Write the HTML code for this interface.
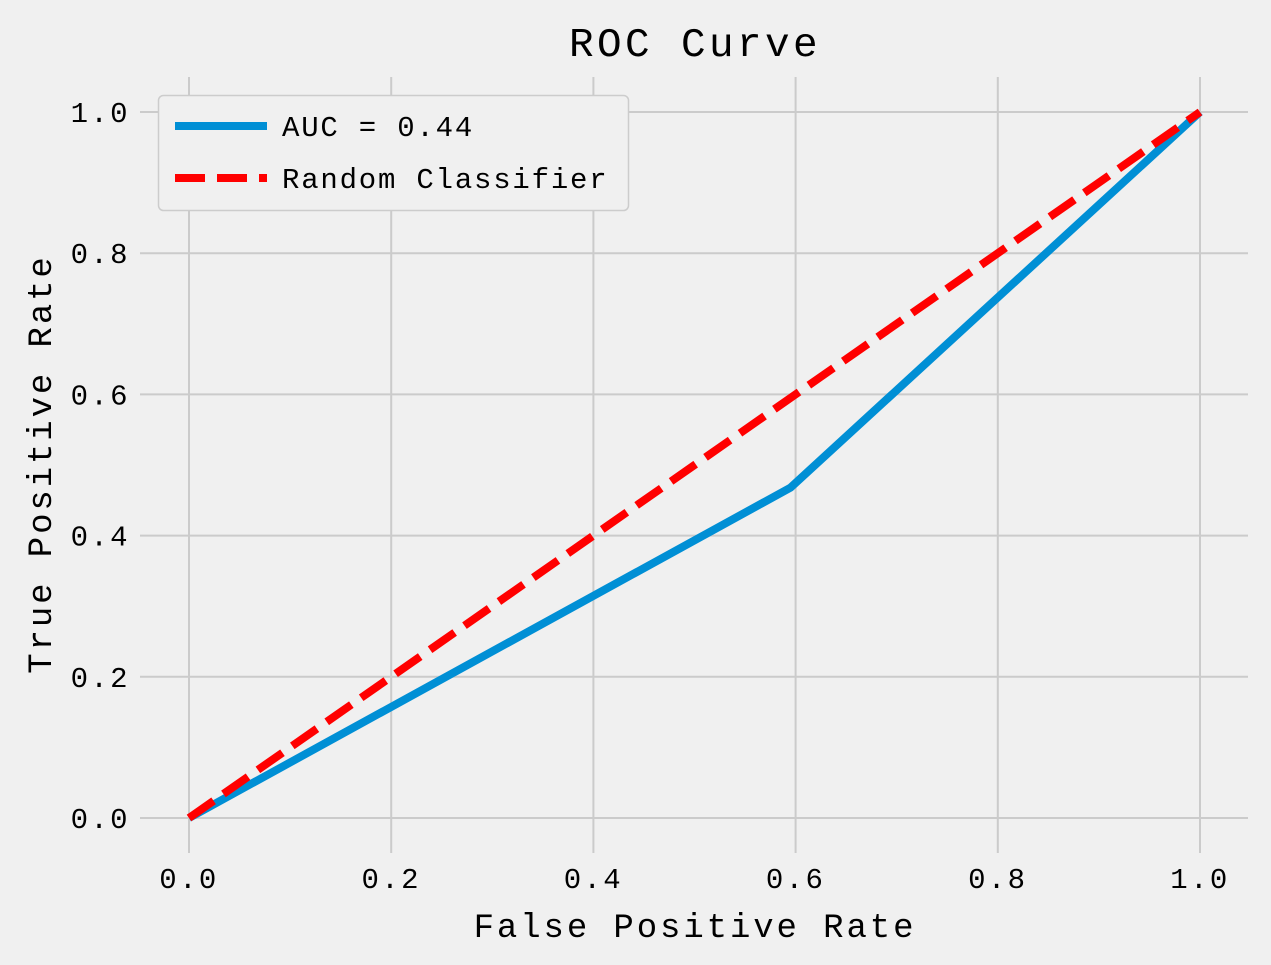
<!DOCTYPE html>
<html><head><meta charset="utf-8"><style>
body{margin:0;background:#f0f0f0}
svg{display:block}
text{font-family:"Liberation Mono",monospace;fill:#000}
</style></head><body>
<svg id="chart" width="1271" height="965" viewBox="0 0 1271 965">
<rect x="0" y="0" width="1271" height="965" fill="#f0f0f0"/>
<g id="grid"></g>
<g id="ticks"></g>
<g id="series"></g>
<text x="695" y="56" font-size="41" letter-spacing="3.4" text-anchor="middle">ROC Curve</text>
<text x="695" y="937" font-size="34" letter-spacing="2.9" text-anchor="middle">False Positive Rate</text>
<text transform="translate(51,464) rotate(-90)" font-size="34" letter-spacing="2.9" text-anchor="middle">True Positive Rate</text>
<g>
<rect x="158.5" y="95.5" width="470" height="115" rx="5" fill="#f0f0f0" stroke="#cccccc" stroke-width="1.5"/>
<line x1="175" y1="126" x2="267" y2="126" stroke="#008fd5" stroke-width="8"/>
<text x="282" y="136" font-size="29" letter-spacing="1.8">AUC = 0.44</text>
<line x1="175" y1="178" x2="267" y2="178" stroke="#ff0000" stroke-width="8" stroke-dasharray="30,12"/>
<text x="282" y="188" font-size="29" letter-spacing="1.8">Random Classifier</text>
</g>
</svg>
<script>
const xTicks=[0,0.2,0.4,0.6,0.8,1.0];
const yTicks=[0,0.2,0.4,0.6,0.8,1.0];
const tickLabels=["0.0","0.2","0.4","0.6","0.8","1.0"];
const rocFpr=[0,0.595,1];
const rocTpr=[0,0.468,1];
const randFpr=[0,1];
const randTpr=[0,1];
const X=v=>189+v*(1200-189);
const Y=v=>818-v*(818-112);
const NS="http://www.w3.org/2000/svg";
const grid=document.getElementById('grid'),ticks=document.getElementById('ticks'),series=document.getElementById('series');
function mk(t,a){const e=document.createElementNS(NS,t);for(const k in a)e.setAttribute(k,a[k]);return e;}
xTicks.forEach((v,i)=>{
  const l=mk('line',{x1:X(v),x2:X(v),y1:77,y2:853,stroke:'#cbcbcb','stroke-width':2});
  
  
  grid.appendChild(l);
  const t=mk('text',{x:X(v),y:888,'font-size':29,'letter-spacing':2.4,'text-anchor':'middle'});
  t.textContent=tickLabels[i];
  
  
  ticks.appendChild(t);
});
yTicks.forEach((v,i)=>{
  const l=mk('line',{x1:140,x2:1248,y1:Y(v),y2:Y(v),stroke:'#cbcbcb','stroke-width':2});
  
  
  grid.appendChild(l);
  const t=mk('text',{x:130,y:Y(v)+10,'font-size':29,'letter-spacing':2.4,'text-anchor':'end'});
  t.textContent=tickLabels[i];
  
  
  ticks.appendChild(t);
});
const roc=mk('polyline',{points:rocFpr.map((v,i)=>X(v)+','+Y(rocTpr[i])).join(' '),fill:'none',stroke:'#008fd5','stroke-width':8});


series.appendChild(roc);
const rnd=mk('polyline',{points:randFpr.map((v,i)=>X(v)+','+Y(randTpr[i])).join(' '),fill:'none',stroke:'#ff0000','stroke-width':8,'stroke-dasharray':'30,12'});


series.appendChild(rnd);
</script>
</body></html>
